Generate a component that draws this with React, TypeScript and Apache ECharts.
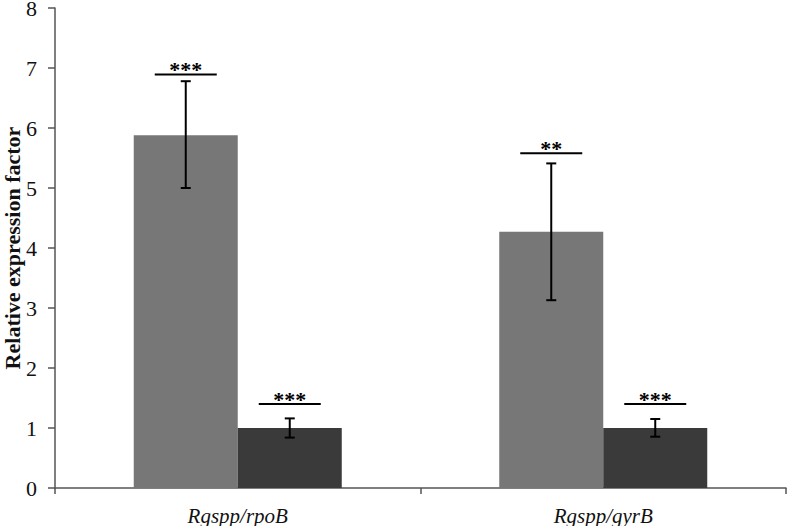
import React, { useEffect, useRef } from "react";
import * as echarts from "echarts";

const categories = ["Rgspp/rpoB", "Rgspp/gyrB"];
const seriesA = [5.88, 4.27];
const seriesB = [1.0, 1.0];
const errA: [number, number][] = [
  [5.0, 6.78],
  [3.13, 5.41],
];
const errB: [number, number][] = [
  [0.84, 1.16],
  [0.855, 1.15],
];
const sigA = [6.89, 5.58];
const sigALabels = ["***", "**"];
const sigB = [1.4, 1.4];
const sigBLabels = ["***", "***"];
const yTicks = [0, 1, 2, 3, 4, 5, 6, 7, 8];

const BAR_W = 104;
const FONT = "Liberation Serif";

export default function App() {
  const ref = useRef<HTMLDivElement>(null);
  useEffect(() => {
    if (!ref.current) return;
    const chart = echarts.init(ref.current, null, { renderer: "svg" });

    const errData: number[][] = [];
    errA.forEach((e, i) => errData.push([i, e[0], e[1], 0]));
    errB.forEach((e, i) => errData.push([i, e[0], e[1], 1]));

    const sigData: number[][] = [];
    const sigLabels: string[] = [];
    sigA.forEach((v, i) => {
      sigData.push([i, v, 0]);
      sigLabels.push(sigALabels[i]);
    });
    sigB.forEach((v, i) => {
      sigData.push([i, v, 1]);
      sigLabels.push(sigBLabels[i]);
    });

    const offset = (s: number) => (s === 0 ? -BAR_W / 2 : BAR_W / 2);

    chart.setOption({
      animation: false,
      backgroundColor: "#ffffff",
      grid: {
        left: 55,
        right: 1,
        top: 8,
        bottom: 38,
        containLabel: false,
        outerBoundsMode: "none",
      },
      xAxis: {
        type: "category",
        data: categories,
        axisLine: { show: true, lineStyle: { color: "#555555", width: 1.5 } },
        axisTick: { show: true, length: 6, lineStyle: { color: "#555555", width: 1.5 } },
        axisLabel: {
          fontFamily: FONT,
          fontStyle: "italic",
          fontSize: 21,
          color: "#111111",
          margin: 17,
        },
      },
      yAxis: {
        type: "value",
        min: yTicks[0],
        max: yTicks[yTicks.length - 1],
        interval: 1,
        name: "Relative expression factor",
        nameLocation: "middle",
        nameRotate: 90,
        nameGap: 32,
        nameMoveOverlap: false,
        nameTextStyle: {
          fontFamily: FONT,
          fontWeight: "bold",
          fontSize: 22,
          color: "#111111",
        },
        axisLine: { show: true, lineStyle: { color: "#555555", width: 1.5 } },
        axisTick: { show: true, length: 7, lineStyle: { color: "#555555", width: 1.5 } },
        axisLabel: {
          fontFamily: FONT,
          fontSize: 22,
          color: "#111111",
          margin: 18,
        },
        splitLine: { show: false },
      },
      series: [
        {
          type: "bar",
          data: seriesA,
          barWidth: BAR_W,
          barGap: "0%",
          itemStyle: { color: "#777777" },
        },
        {
          type: "bar",
          data: seriesB,
          barWidth: BAR_W,
          barGap: "0%",
          itemStyle: { color: "#3a3a3a" },
        },
        {
          type: "custom",
          data: errData,
          z: 10,
          renderItem: (params: any, api: any) => {
            const cat = api.value(0);
            const lo = api.coord([cat, api.value(1)]);
            const hi = api.coord([cat, api.value(2)]);
            const x = lo[0] + offset(api.value(3));
            const cap = 5;
            const style = { stroke: "#000000", lineWidth: 2 };
            return {
              type: "group",
              children: [
                { type: "line", shape: { x1: x, y1: lo[1], x2: x, y2: hi[1] }, style },
                { type: "line", shape: { x1: x - cap, y1: lo[1], x2: x + cap, y2: lo[1] }, style },
                { type: "line", shape: { x1: x - cap, y1: hi[1], x2: x + cap, y2: hi[1] }, style },
              ],
            };
          },
        },
        {
          type: "custom",
          data: sigData,
          z: 10,
          renderItem: (params: any, api: any) => {
            const cat = api.value(0);
            const p = api.coord([cat, api.value(1)]);
            const x = p[0] + offset(api.value(2));
            const half = 31;
            return {
              type: "group",
              children: [
                {
                  type: "line",
                  shape: { x1: x - half, y1: p[1], x2: x + half, y2: p[1] },
                  style: { stroke: "#000000", lineWidth: 2 },
                },
                {
                  type: "text",
                  x: x,
                  y: p[1] + 6,
                  style: {
                    text: sigLabels[params.dataIndex],
                    fontFamily: FONT,
                    fontSize: 22,
                    fontWeight: "bold",
                    fill: "#000000",
                    align: "center",
                    verticalAlign: "bottom",
                  },
                },
              ],
            };
          },
        },
      ],
    });
    return () => chart.dispose();
  }, []);

  return (
    <div
      ref={ref}
      style={{ position: "absolute", left: 0, top: 0, width: 787, height: 526 }}
    />
  );
}
